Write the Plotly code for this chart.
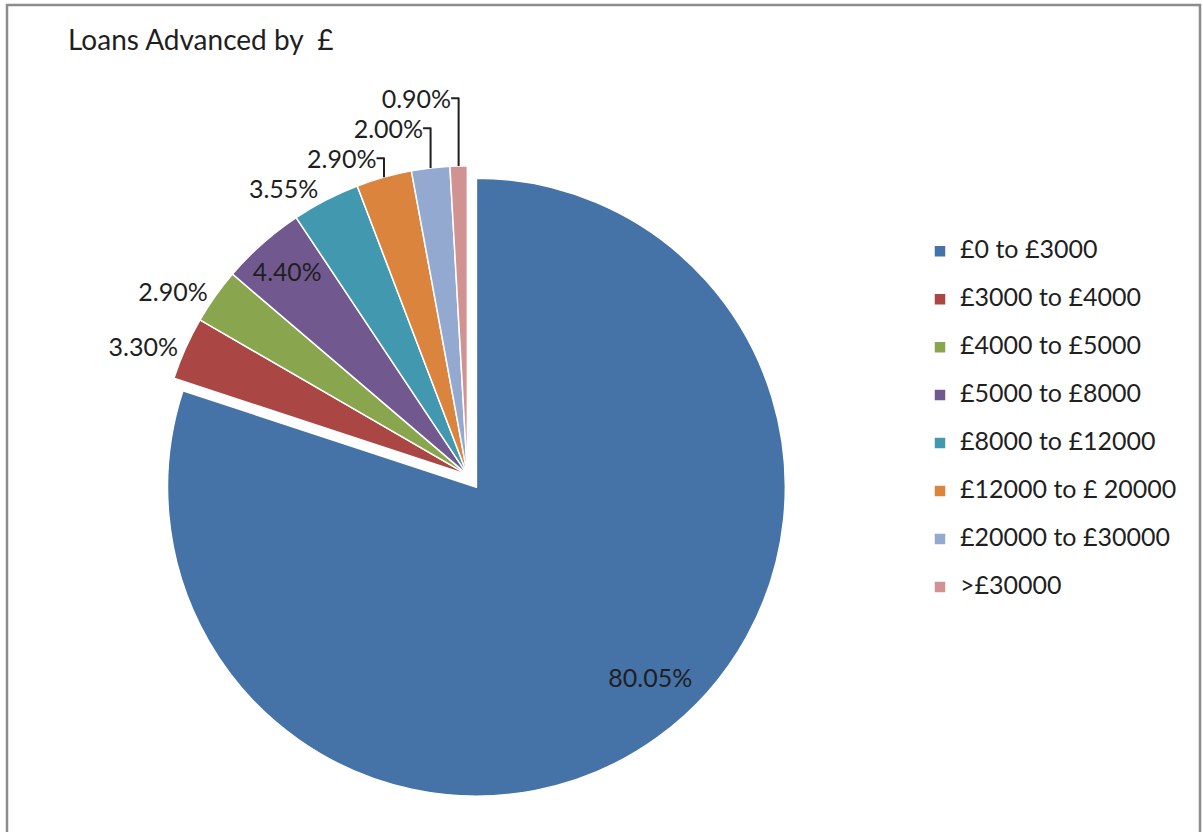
import plotly.graph_objects as go

categories = ["£0 to £3000", "£3000 to £4000", "£4000 to £5000", "£5000 to £8000",
              "£8000 to £12000", "£12000 to £ 20000", "£20000 to £30000", ">£30000"]
shares = [80.05, 3.30, 2.90, 4.40, 3.55, 2.90, 2.00, 0.90]
colors = ["#4572A7", "#AA4643", "#89A54E", "#71588F", "#4198AF", "#DB843D", "#93A9CF", "#D19392"]
text_positions = ["inside", "outside", "outside", "inside", "outside", "outside", "outside", "outside"]
pulls = [0.05, 0, 0, 0, 0, 0, 0, 0]

W, H = 1203, 832
FONT = "Lato, 'Open Sans', sans-serif"
TXT = "#1f1f1f"

legend_labels = [f'<span style="font-size:25px">{c}</span><br> ' for c in categories]

NB = "&nbsp;"
label_fmt = "%{value:.2f}%"
# the big slice's label sits lower-right in its slice, as in the original
templates = [(NB + "<br>") * 4 + NB * 26 + label_fmt] + [label_fmt] * (len(shares) - 1)

fig = go.Figure(go.Pie(
    labels=legend_labels,
    values=shares,
    sort=False,
    direction="clockwise",
    rotation=0,
    pull=pulls,
    marker=dict(colors=colors, line=dict(color="white", width=1.5)),
    texttemplate=templates,
    textposition=text_positions,
    insidetextorientation="horizontal",
    textfont=dict(family=FONT, size=25, color=TXT),
    outsidetextfont=dict(family=FONT, size=25, color=TXT),
    insidetextfont=dict(family=FONT, size=25, color=TXT),
    domain=dict(x=[0.112, 0.665], y=[0.0208, 0.8158]),
    hovertemplate="%{value:.2f}%<extra></extra>",
))

fig.update_layout(
    width=W, height=H,
    margin=dict(l=0, r=0, t=0, b=0),
    paper_bgcolor="white",
    plot_bgcolor="white",
    font=dict(family=FONT, color=TXT),
    title=dict(text="Loans Advanced by  £", x=68 / W, xanchor="left",
               y=1 - 40 / H, yanchor="middle",
               font=dict(family=FONT, size=28, color=TXT)),
    legend=dict(x=920 / W, xanchor="left", y=1 - 238 / H, yanchor="top",
                font=dict(family=FONT, size=17.3, color=TXT),
                valign="top", itemwidth=30, bgcolor="rgba(0,0,0,0)"),
    shapes=[dict(type="rect", xref="paper", yref="paper",
                 x0=7 / W, x1=1200 / W, y0=-0.2, y1=1 - 5 / H,
                 line=dict(color="#8c8c8c", width=2.5), fillcolor="rgba(0,0,0,0)")],
)

fig.write_html("out.html")
